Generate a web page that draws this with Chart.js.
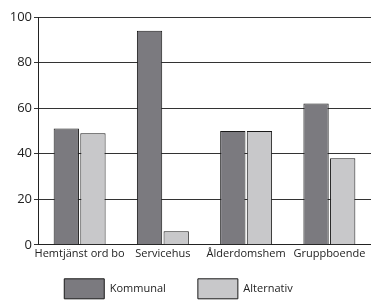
<!DOCTYPE html>
<html>
<head>
<meta charset="utf-8">
<script src="https://cdn.jsdelivr.net/npm/chart.js@4"></script>
<style>
  html, body { margin: 0; padding: 0; background: #fff; }
  #wrap { width: 371px; height: 300px; }
</style>
</head>
<body>
<div id="wrap"><canvas id="myChart"></canvas></div>
<script>
const categories = ['Hemtjänst ord bo', 'Servicehus', 'Ålderdomshem', 'Gruppboende'];
const kommunal = [51, 94, 50, 62];
const alternativ = [49, 6, 50, 38];
const yTicks = [0, 20, 40, 60, 80, 100];

// the legend needs wide gaps between items but little height,
// so pull it up and a bit to the left after layout
const legendShift = {
    id: 'legendShift',
    afterLayout(chart) {
        chart.legend.left -= 14;
        chart.legend.top = chart.chartArea.bottom + 2;
    }
};

const ctx = document.getElementById('myChart');

new Chart(ctx, {
    type: 'bar',
    data: {
        labels: categories,
        datasets: [{
            label: 'Kommunal',
            data: kommunal,
            backgroundColor: '#7b7a7f',
            borderColor: '#1a1a1a',
            borderWidth: 1
        }, {
            label: 'Alternativ',
            data: alternativ,
            backgroundColor: '#c8c8ca',
            borderColor: '#1a1a1a',
            borderWidth: 1
        }]
    },
    plugins: [legendShift],
    options: {
        responsive: true,
        maintainAspectRatio: false,
        animation: false,
        datasets: {
            bar: { categoryPercentage: 0.64, barPercentage: 0.95 }
        },
        layout: { padding: { top: 17, right: 0, left: 0, bottom: 0 } },
        plugins: {
            legend: {
                position: 'bottom',
                maxHeight: 38,
                labels: {
                    boxWidth: 40,
                    boxHeight: 20,
                    padding: 32,
                    color: '#222',
                    font: { family: 'Open Sans', size: 11 },
                    useBorderRadius: false
                }
            },
            tooltip: { enabled: false }
        },
        scales: {
            x: {
                grid: { display: false, drawTicks: false },
                border: { color: '#222' },
                ticks: {
                    color: '#222',
                    font: { family: 'Open Sans', size: 11 },
                    maxRotation: 0,
                    autoSkip: false,
                    padding: 2
                }
            },
            y: {
                min: 0,
                max: 100,
                afterBuildTicks: axis => { axis.ticks = yTicks.map(v => ({ value: v })); },
                afterFit: axis => { axis.width = 38; },
                grid: { color: '#333', tickLength: 4 },
                border: { color: '#222' },
                ticks: {
                    color: '#222',
                    font: { family: 'Open Sans', size: 13 },
                    padding: 2
                }
            }
        }
    }
});
</script>
</body>
</html>
